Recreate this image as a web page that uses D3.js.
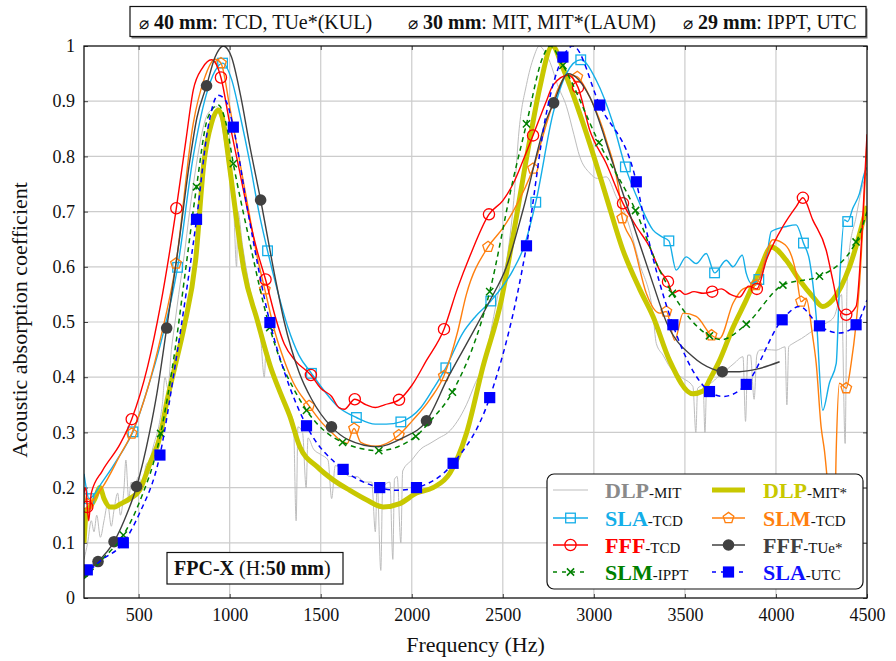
<!DOCTYPE html>
<html>
<head>
<meta charset="utf-8">
<script src="https://cdn.jsdelivr.net/npm/d3@7"></script>
<style>
  body { margin: 0; background: #fff; }
  svg { display: block; }
  svg text { font-family: "Liberation Serif", "DejaVu Serif", serif; }
</style>
</head>
<body>
<svg id="chart" width="896" height="661"></svg>
<script>
// ---------- axes ----------
const xTicks = [500, 1000, 1500, 2000, 2500, 3000, 3500, 4000, 4500];
const yTicks = [0, 0.1, 0.2, 0.3, 0.4, 0.5, 0.6, 0.7, 0.8, 0.9, 1];
const yTickLabels = ["0", "0.1", "0.2", "0.3", "0.4", "0.5", "0.6", "0.7", "0.8", "0.9", "1"];

// ---------- DLP-MIT (measured, noisy) ----------
const dlpMitF = [200,220,240,255,270,290,310,330,350,365,385,400,420,430,445,460,475,500,520,540,560,585,610,630,645,660,680,700,720,750,780,810,840,870,900,930,950,975,1000,1020,1038,1045,1070,1100,1130,1150,1170,1190,1200,1230,1260,1290,1320,1350,1365,1375,1400,1420,1430,1460,1500,1540,1560,1580,1620,1660,1700,1740,1780,1800,1810,1830,1840,1880,1896,1905,1920,1940,1950,2000,2050,2100,2150,2200,2250,2300,2350,2390,2420,2450,2480,2520,2560,2590,2630,2670,2700,2730,2760,2800,2850,2890,2922,2977,3020,3068,3123,3178,3251,3324,3343,3380,3416,3480,3544,3560,3570,3600,3610,3620,3635,3680,3727,3770,3819,3833,3845,3860,3880,3895,3910,3950,4001,4050,4060,4070,4093,4140,4184,4230,4276,4320,4360,4380,4390,4400,4440,4470,4500];
const dlpMitV = [0.07,0.10,0.14,0.12,0.15,0.11,0.14,0.17,0.13,0.16,0.19,0.15,0.20,0.25,0.18,0.21,0.20,0.22,0.20,0.24,0.25,0.28,0.31,0.35,0.40,0.38,0.45,0.50,0.55,0.62,0.70,0.77,0.83,0.87,0.885,0.89,0.87,0.82,0.76,0.72,0.60,0.70,0.64,0.58,0.53,0.50,0.47,0.40,0.45,0.42,0.39,0.36,0.34,0.32,0.14,0.31,0.30,0.20,0.29,0.27,0.26,0.25,0.18,0.24,0.23,0.22,0.22,0.21,0.21,0.12,0.21,0.05,0.20,0.21,0.07,0.215,0.22,0.10,0.23,0.25,0.27,0.28,0.29,0.30,0.32,0.35,0.39,0.42,0.46,0.51,0.56,0.61,0.72,0.85,0.93,0.98,1.0,0.99,0.97,0.93,0.89,0.84,0.80,0.77,0.76,0.763,0.727,0.69,0.606,0.516,0.461,0.44,0.419,0.40,0.383,0.30,0.38,0.385,0.30,0.39,0.389,0.40,0.413,0.425,0.437,0.32,0.44,0.44,0.36,0.44,0.449,0.45,0.449,0.455,0.35,0.455,0.461,0.47,0.48,0.49,0.498,0.51,0.55,0.28,0.56,0.62,0.69,0.74,0.77];

// ---------- DLP-MIT* ----------
const dlpMitStarF = [200,215,233,260,288,310,343,370,398,452,507,562,617,657,700,749,813,859,900,937,960,1000,1040,1078,1151,1224,1279,1330,1385,1480,1568,1660,1751,1843,1934,2026,2117,2209,2300,2391,2492,2556,2648,2700,2772,2830,2922,3000,3068,3160,3251,3325,3416,3544,3600,3635,3690,3764,3837,3910,3975,4056,4129,4202,4257,4312,4404,4500];
const dlpMitStarV = [0.10,0.16,0.165,0.18,0.20,0.18,0.165,0.165,0.17,0.18,0.196,0.244,0.292,0.359,0.42,0.49,0.612,0.79,0.86,0.884,0.87,0.78,0.68,0.594,0.504,0.419,0.371,0.33,0.274,0.238,0.214,0.195,0.178,0.165,0.171,0.19,0.20,0.226,0.298,0.419,0.54,0.655,0.83,0.92,1.0,0.96,0.878,0.80,0.727,0.63,0.56,0.51,0.43,0.37,0.375,0.395,0.43,0.49,0.54,0.594,0.636,0.612,0.576,0.546,0.528,0.54,0.60,0.71];

// ---------- SLA-TCD ----------
const slaTcdMarkF = [227,469,714,961,1208,1449,1696,1940,2187,2434,2681,2928,3173,3412,3663,3906,4151,4394];
const slaTcdMarkV = [0.18,0.301,0.599,0.969,0.629,0.407,0.327,0.319,0.417,0.538,0.717,0.975,0.781,0.647,0.589,0.577,0.643,0.682];
const slaTcdKnotF = [200,212,300,400,550,620,800,870,920,1010,1060,1110,1160,1260,1320,1380,1520,1600,1800,1860,2050,2120,2280,2350,2556,2620,2776,2849,3013,3105,3251,3324,3370,3452,3507,3562,3617,3727,3764,3815,3837,3864,3950,3974,4056,4111,4184,4221,4257,4294,4331,4349,4376,4422,4459,4486,4500];
const slaTcdKnotV = [0.225,0.20,0.21,0.26,0.38,0.46,0.80,0.91,0.955,0.94,0.87,0.79,0.70,0.56,0.49,0.44,0.375,0.345,0.315,0.315,0.345,0.38,0.48,0.51,0.594,0.64,0.878,0.95,0.938,0.86,0.715,0.667,0.655,0.594,0.618,0.606,0.624,0.612,0.60,0.621,0.588,0.57,0.62,0.664,0.673,0.676,0.612,0.51,0.34,0.39,0.425,0.57,0.685,0.706,0.733,0.77,0.78];

// ---------- SLM-TCD ----------
const slmTcdMarkF = [218,462,705,952,1193,1436,1683,1929,2176,2419,2666,2909,3156,3398,3646,3890,4138,4386];
const slmTcdMarkV = [0.17,0.298,0.606,0.969,0.559,0.348,0.307,0.295,0.402,0.636,0.778,0.944,0.688,0.519,0.476,0.567,0.537,0.38];
const slmTcdKnotF = [200,300,400,550,620,800,860,920,1000,1050,1100,1150,1250,1300,1350,1500,1560,1610,1645,1720,1800,2000,2100,2250,2300,2500,2556,2750,2800,2860,2977,3068,3142,3215,3288,3361,3444,3490,3562,3690,3764,3820,3983,4050,4093,4111,4166,4202,4221,4248,4266,4300,4320,4331,4349,4413,4459,4500];
const slmTcdKnotV = [0.19,0.20,0.26,0.38,0.47,0.86,0.94,0.976,0.89,0.80,0.71,0.62,0.48,0.43,0.39,0.32,0.30,0.285,0.28,0.282,0.275,0.32,0.36,0.48,0.55,0.67,0.70,0.87,0.92,0.948,0.908,0.83,0.727,0.643,0.552,0.516,0.467,0.516,0.51,0.47,0.534,0.56,0.649,0.64,0.612,0.588,0.543,0.473,0.425,0.31,0.268,0.15,0.10,0.268,0.389,0.425,0.57,0.83];

// ---------- FFF-TCD ----------
const fffTcdMarkF = [218,462,707,952,1197,1446,1687,1930,2177,2424,2666,2913,3160,3407,3650,3895,4148,4386];
const fffTcdMarkV = [0.165,0.324,0.706,0.943,0.577,0.404,0.36,0.359,0.487,0.695,0.838,0.925,0.715,0.573,0.555,0.56,0.725,0.513];
const fffTcdKnotF = [200,210,226,240,300,400,550,620,760,800,850,900,1000,1050,1100,1150,1250,1300,1360,1500,1560,1600,1630,1750,1800,1850,2000,2080,2250,2320,2500,2556,2620,2739,2776,2858,2977,3068,3233,3306,3361,3434,3470,3500,3550,3600,3700,3750,3800,3850,3947,4038,4111,4202,4276,4312,4349,4440,4477,4500];
const fffTcdKnotV = [0.19,0.20,0.14,0.19,0.23,0.28,0.42,0.53,0.83,0.92,0.96,0.975,0.86,0.78,0.70,0.63,0.51,0.46,0.43,0.38,0.365,0.345,0.342,0.35,0.345,0.35,0.385,0.43,0.56,0.62,0.72,0.75,0.80,0.90,0.929,0.947,0.848,0.787,0.673,0.636,0.594,0.552,0.557,0.55,0.555,0.552,0.56,0.55,0.545,0.565,0.612,0.673,0.709,0.685,0.63,0.576,0.522,0.528,0.69,0.84];

// ---------- FFF-TUe* ----------
const fffTueMarkF = [200,277,365,489,654,873,1170,1559,2081,2779,3705];
const fffTueMarkV = [0.047,0.066,0.102,0.202,0.489,0.928,0.721,0.31,0.321,0.897,0.41];
const fffTueKnotF = [420,560,600,720,780,820,920,965,1010,1060,1110,1250,1300,1380,1450,1650,1815,1950,2200,2300,2428,2520,2611,2739,2858,2977,3105,3196,3324,3398,3544,3650,3800,3900,4020];
const fffTueKnotV = [0.14,0.30,0.37,0.64,0.79,0.87,0.98,1.0,0.98,0.91,0.82,0.58,0.50,0.41,0.36,0.287,0.274,0.29,0.40,0.46,0.538,0.60,0.703,0.866,0.95,0.908,0.787,0.697,0.57,0.50,0.437,0.415,0.41,0.415,0.428];

// ---------- SLM-IPPT ----------
const slmIpptMarkF = [416,621,818,1020,1220,1422,1620,1819,2022,2223,2428,2630,2830,3028,3229,3431,3635,3837,4038,4239,4440];
const slmIpptMarkV = [0.114,0.298,0.745,0.787,0.49,0.34,0.282,0.267,0.293,0.373,0.555,0.859,0.965,0.825,0.702,0.552,0.475,0.496,0.567,0.583,0.645];
const slmIpptKnotF = [200,300,500,700,760,880,937,980,1100,1279,1350,2100,2556,2720,2760,3361,3700,4500];
const slmIpptKnotV = [0.035,0.07,0.17,0.45,0.60,0.87,0.893,0.86,0.66,0.43,0.38,0.32,0.757,0.98,1.0,0.594,0.468,0.70];

// ---------- SLA-UTC ----------
const slaUtcMarkF = [218,416,617,818,1020,1221,1422,1623,1824,2026,2227,2428,2630,2830,3032,3233,3434,3635,3837,4034,4239,4440];
const slaUtcMarkV = [0.051,0.10,0.259,0.686,0.853,0.499,0.312,0.233,0.20,0.20,0.244,0.363,0.638,0.98,0.893,0.754,0.495,0.374,0.387,0.504,0.493,0.495];
const slaUtcKnotF = [200,300,500,700,760,880,937,980,1100,1300,1920,2739,2885,3288,3708,4129,4349,4500];
const slaUtcKnotV = [0.06,0.07,0.15,0.42,0.55,0.85,0.911,0.90,0.70,0.41,0.195,0.878,1.0,0.667,0.365,0.528,0.48,0.54];

// ---------- layout ----------
const svg = d3.select("#chart");
const pLeft = 84, pRight = 867, pTop = 46, pBottom = 598;
const x = d3.scaleLinear().domain([200, 4500]).range([pLeft, pRight]);
const y = d3.scaleLinear().domain([0, 1]).range([pBottom, pTop]);
const serif = "Liberation Serif, DejaVu Serif, serif";

const zip = (f, v) => f.map((d, i) => [d, v[i]]);
const merged = (mf, mv, kf, kv) => zip(mf, mv).concat(zip(kf, kv)).sort((a, b) => a[0] - b[0]);

// grid
const grid = svg.append("g").attr("stroke", "#cccccc").attr("stroke-width", 1.2);
grid.selectAll("line.v").data(xTicks.filter(t => t < 4500)).join("line").attr("class", "v")
  .attr("x1", d => x(d)).attr("x2", d => x(d)).attr("y1", pTop).attr("y2", pBottom);
grid.selectAll("line.h").data(yTicks.filter(t => t > 0 && t < 1)).join("line").attr("class", "h")
  .attr("x1", pLeft).attr("x2", pRight).attr("y1", d => y(d)).attr("y2", d => y(d));

// axes with inward ticks
function styleAxis(g) {
  g.attr("font-family", null).attr("font-size", null);
  g.select(".domain").remove();
  g.selectAll(".tick line").attr("stroke", "#444").attr("stroke-width", 1);
  g.selectAll("text").style("font-family", serif).attr("font-size", 18).attr("fill", "#111");
}
svg.append("g").attr("transform", `translate(0,${pBottom})`)
  .call(d3.axisBottom(x).tickValues(xTicks).tickSizeInner(-4).tickSizeOuter(0).tickPadding(10).tickFormat(d3.format("d")))
  .call(styleAxis);
svg.append("g").attr("transform", `translate(0,${pTop})`)
  .call(d3.axisTop(x).tickValues(xTicks).tickSizeInner(-4).tickSizeOuter(0).tickFormat(""))
  .call(styleAxis);
svg.append("g").attr("transform", `translate(${pLeft},0)`)
  .call(d3.axisLeft(y).tickValues(yTicks).tickSizeInner(-4).tickSizeOuter(0).tickPadding(9)
    .tickFormat((d, i) => yTickLabels[i]))
  .call(styleAxis);
svg.append("g").attr("transform", `translate(${pRight},0)`)
  .call(d3.axisRight(y).tickValues(yTicks).tickSizeInner(-4).tickSizeOuter(0).tickFormat(""))
  .call(styleAxis);

// clip
svg.append("clipPath").attr("id", "plotClip").append("rect")
  .attr("x", pLeft).attr("y", pTop).attr("width", pRight - pLeft).attr("height", pBottom - pTop);

const line = d3.line().x(d => x(d[0])).y(d => y(d[1])).curve(d3.curveMonotoneX);
const plot = svg.append("g").attr("clip-path", "url(#plotClip)");

// marker painters
function pentagon(r) {
  const pts = d3.range(5).map(i => {
    const a = -Math.PI / 2 + i * 2 * Math.PI / 5;
    return [r * Math.cos(a), r * Math.sin(a)];
  });
  return "M" + pts.map(p => p.join(",")).join("L") + "Z";
}
const markers = {
  openSquare: (g, c) => g.append("rect").attr("x", -4.8).attr("y", -4.8).attr("width", 9.6).attr("height", 9.6)
    .attr("fill", "none").attr("stroke", c).attr("stroke-width", 1.3),
  openPentagon: (g, c) => g.append("path").attr("d", pentagon(5.6))
    .attr("fill", "none").attr("stroke", c).attr("stroke-width", 1.3),
  openCircle: (g, c) => g.append("circle").attr("r", 5.6)
    .attr("fill", "none").attr("stroke", c).attr("stroke-width", 1.3),
  filledCircle: (g, c) => g.append("circle").attr("r", 5.8).attr("fill", c),
  cross: (g, c) => g.append("path").attr("d", "M-3.6,-3.6L3.6,3.6M-3.6,3.6L3.6,-3.6")
    .attr("stroke", c).attr("stroke-width", 1.5),
  filledSquare: (g, c) => g.append("rect").attr("x", -5.6).attr("y", -5.6).attr("width", 11.2).attr("height", 11.2).attr("fill", c)
};

const series = [
  { name: "DLP", suffix: "-MIT", color: "#bdbdbd", label: "#8a8a8a", width: 1, data: zip(dlpMitF, dlpMitV), marks: [] },
  { name: "DLP", suffix: "-MIT*", color: "#c8c800", label: "#c8c800", width: 5, data: zip(dlpMitStarF, dlpMitStarV), marks: [] },
  { name: "SLA", suffix: "-TCD", color: "#14aee8", label: "#14aee8", width: 1.4, marker: "openSquare",
    data: merged(slaTcdMarkF, slaTcdMarkV, slaTcdKnotF, slaTcdKnotV), marks: zip(slaTcdMarkF, slaTcdMarkV) },
  { name: "SLM", suffix: "-TCD", color: "#ff7f0e", label: "#ff7f0e", width: 1.4, marker: "openPentagon",
    data: merged(slmTcdMarkF, slmTcdMarkV, slmTcdKnotF, slmTcdKnotV), marks: zip(slmTcdMarkF, slmTcdMarkV) },
  { name: "FFF", suffix: "-TCD", color: "#ff0000", label: "#ff0000", width: 1.4, marker: "openCircle",
    data: merged(fffTcdMarkF, fffTcdMarkV, fffTcdKnotF, fffTcdKnotV), marks: zip(fffTcdMarkF, fffTcdMarkV) },
  { name: "FFF", suffix: "-TUe*", color: "#404040", label: "#404040", width: 1.4, marker: "filledCircle",
    data: merged(fffTueMarkF, fffTueMarkV, fffTueKnotF, fffTueKnotV), marks: zip(fffTueMarkF, fffTueMarkV) },
  { name: "SLM", suffix: "-IPPT", color: "#008000", label: "#008000", width: 1.5, dash: "5,4", marker: "cross",
    data: merged(slmIpptMarkF, slmIpptMarkV, slmIpptKnotF, slmIpptKnotV), marks: zip(slmIpptMarkF, slmIpptMarkV) },
  { name: "SLA", suffix: "-UTC", color: "#0000ff", label: "#1010ff", width: 1.5, dash: "5,4", marker: "filledSquare",
    data: merged(slaUtcMarkF, slaUtcMarkV, slaUtcKnotF, slaUtcKnotV), marks: zip(slaUtcMarkF, slaUtcMarkV) }
];

series.forEach(s => {
  plot.append("path").datum(s.data).attr("d", line)
    .attr("fill", "none").attr("stroke", s.color).attr("stroke-width", s.width)
    .attr("stroke-linejoin", "round").attr("stroke-dasharray", s.dash || null);
  s.marks.forEach(m => {
    const g = plot.append("g").attr("transform", `translate(${x(m[0])},${y(m[1])})`);
    markers[s.marker](g, s.color);
  });
});

// frame
svg.append("rect").attr("x", pLeft).attr("y", pTop).attr("width", pRight - pLeft).attr("height", pBottom - pTop)
  .attr("fill", "none").attr("stroke", "#111").attr("stroke-width", 1.3);

// axis titles
svg.append("text").attr("x", (pLeft + pRight) / 2).attr("y", 652).attr("text-anchor", "middle")
  .attr("font-size", 22).attr("fill", "#111").text("Frequency (Hz)");
svg.append("text").attr("transform", `translate(27,${(pTop + pBottom) / 2 - 2}) rotate(-90)`).attr("text-anchor", "middle")
  .attr("font-size", 22).attr("fill", "#111").text("Acoustic absorption coefficient");

// header box
svg.append("rect").attr("x", 131.5).attr("y", 8.5).attr("width", 736).attr("height", 30).attr("fill", "#777");
svg.append("rect").attr("x", 130).attr("y", 6.5).attr("width", 736).attr("height", 30)
  .attr("fill", "#fff").attr("stroke", "#111").attr("stroke-width", 1.2);
const headerGroups = [
  { x: 139, dia: "40", rest: ": TCD, TUe*(KUL)" },
  { x: 408, dia: "30", rest: ": MIT, MIT*(LAUM)" },
  { x: 683, dia: "29", rest: ": IPPT, UTC" }
];
headerGroups.forEach(h => {
  const t = svg.append("text").attr("x", h.x).attr("y", 29).attr("font-size", 20).attr("fill", "#111");
  t.append("tspan").style("font-family", "DejaVu Serif, serif").attr("font-size", 17).text("\u2300");
  t.append("tspan").attr("font-weight", "bold").attr("dx", 5).text(h.dia + " mm");
  t.append("tspan").text(h.rest);
});

// FPC-X box
svg.append("rect").attr("x", 167).attr("y", 552.5).attr("width", 176).attr("height", 31.5)
  .attr("fill", "#fff").attr("stroke", "#111").attr("stroke-width", 1.2);
const fpc = svg.append("text").attr("x", 174).attr("y", 575).attr("font-size", 20).attr("fill", "#111");
fpc.append("tspan").attr("font-weight", "bold").text("FPC-X");
fpc.append("tspan").text(" (H:");
fpc.append("tspan").attr("font-weight", "bold").text("50 mm");
fpc.append("tspan").text(")");

// legend
const legend = svg.append("g");
legend.append("rect").attr("x", 547).attr("y", 474).attr("width", 316).attr("height", 115).attr("rx", 7)
  .attr("fill", "#fff").attr("stroke", "#111").attr("stroke-width", 1.2);
const rowY = [490, 518, 545, 572];
const colX = [{ l0: 553, l1: 588, t: 605 }, { l0: 712, l1: 745, t: 763 }];
series.forEach((s, i) => {
  const r = Math.floor(i / 2), c = colX[i % 2], yy = rowY[r];
  legend.append("line").attr("x1", c.l0).attr("x2", c.l1).attr("y1", yy).attr("y2", yy)
    .attr("stroke", s.color).attr("stroke-width", s.width).attr("stroke-dasharray", s.dash ? "4,5" : null);
  if (s.marker) {
    const g = legend.append("g").attr("transform", `translate(${(c.l0 + c.l1) / 2},${yy})`);
    markers[s.marker](g, s.color);
  }
  const t = legend.append("text").attr("x", c.t).attr("y", yy + 8).attr("fill", "#111");
  t.append("tspan").attr("font-weight", "bold").attr("font-size", 22).attr("fill", s.label).text(s.name);
  t.append("tspan").attr("font-size", 15).text(s.suffix);
});
</script>
</body>
</html>
